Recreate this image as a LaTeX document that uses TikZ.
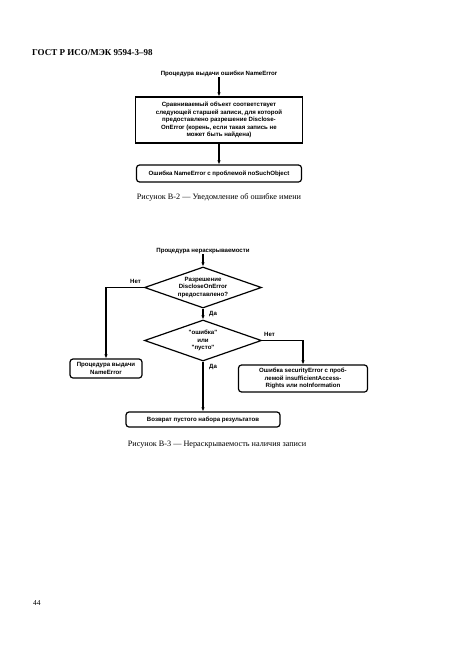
\documentclass[tikz,border=0pt]{standalone}
\usepackage{fontspec}
\setmainfont{Liberation Serif}
\newfontfamily\flowfont{Liberation Sans}
\usetikzlibrary{shapes, arrows.meta, positioning}

\begin{document}
\begin{tikzpicture}[x=1pt, y=-1pt, >={Latex[length=4pt,width=3.4pt]},
        every node/.style={font=\flowfont\bfseries\fontsize{6.1}{7.4}\selectfont, inner sep=0pt},
        procbox/.style={draw, line width=1.2pt, align=center, inner sep=2pt},
        termbox/.style={procbox, rounded corners=3pt},
        testbox/.style={draw, diamond, aspect=2.85, line width=1.2pt, align=center,
          minimum width=117pt, minimum height=41pt, inner sep=0pt},
        flow/.style={line width=1.2pt},
        caption/.style={font=\fontsize{8.2}{10}\selectfont},
        pagetext/.style={font=\bfseries\fontsize{9}{11}\selectfont, anchor=west}]
        \useasboundingbox (0,0) rectangle (459,661);
        \node[pagetext] (head) at (32,53) {ГОСТ Р ИСО/МЭК 9594-3--98};
        \node[pagetext, font=\fontsize{7.5}{9}\selectfont] (page) at (33,603) {44};

        % Рисунок В-2
        \node (nerr)  at (219,74)    {Процедура выдачи ошибки NameError};
        \node[procbox, minimum width=167pt, minimum height=46pt] (match) at (219,120)
          {Сравниваемый объект соответствует\\следующей старшей записи, для которой\\
           предоставлено разрешение Disclose-\\OnError (корень, если такая запись не\\
           может быть найдена)};
        \node[termbox, minimum width=165pt, minimum height=17pt] (nsobj) at (219,173.5)
          {Ошибка NameError с проблемой noSuchObject};
        \node[caption] (cap2) at (219,197) {Рисунок В-2 --- Уведомление об ошибке имени};
        \path[->, flow]
          (nerr)  edge (match)
          (match) edge (nsobj);

        % Рисунок В-3
        \node (nondis) at (203,251) {Процедура нераскрываемости};
        \node[testbox] (perm)  at (203,287.5) {Разрешение\\DiscloseOnError\\предоставлено?};
        \node[testbox] (empty) at (203,340.5) {"ошибка"\\или\\"пусто"};
        \node[termbox, minimum width=72pt, minimum height=19pt] (nproc) at (106,368.5)
          {Процедура выдачи\\NameError};
        \node[termbox, minimum width=129pt, minimum height=27pt] (secerr) at (303,378.5)
          {Ошибка securityError с проб-\\лемой insufficientAccess-\\Rights или noInformation};
        \node[termbox, minimum width=154pt, minimum height=15pt] (result) at (203,419.5)
          {Возврат пустого набора результатов};
        \node[caption] (cap3) at (217,445) {Рисунок В-3 --- Нераскрываемость наличия записи};

        \node[anchor=south east] (no1)  at (141,284) {Нет};
        \node[anchor=south west] (no2)  at (264,337) {Нет};
        \node[anchor=west]       (yes1) at (209,314) {Да};
        \node[anchor=west]       (yes2) at (209,367) {Да};

        \draw[->, flow] (nondis) -- (perm);
        \draw[->, flow] (perm) -- (empty);
        \draw[->, flow] (perm.west) -| (nproc);
        \draw[->, flow] (empty.east) -| (secerr);
        \draw[->, flow] (empty) -- (result);
      \end{tikzpicture}
\end{document}
